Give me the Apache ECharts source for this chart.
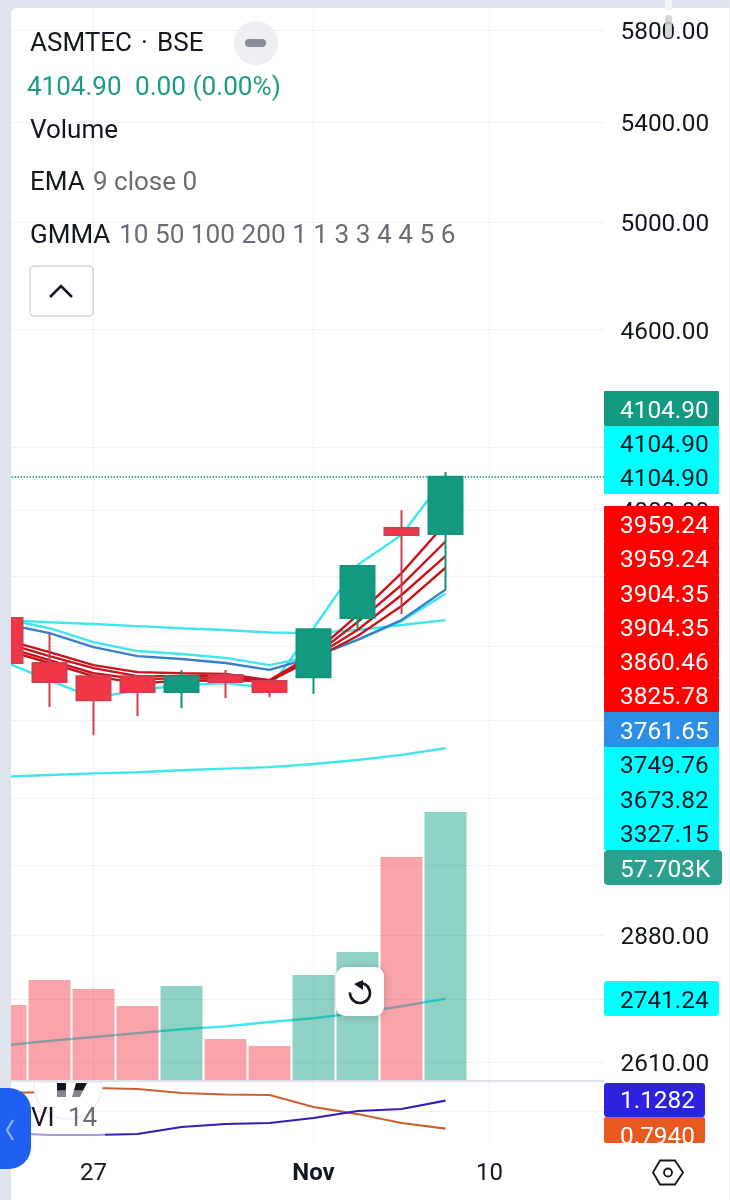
<!DOCTYPE html>
<html><head><meta charset="utf-8">
<style>html,body{margin:0;padding:0;background:#fff}#c{width:730px;height:1200px}</style>
<script src="https://cdn.jsdelivr.net/npm/echarts@6/dist/echarts.min.js"></script>
</head><body><div id="c"></div>
<script>
const categories=['23','24','27','28','29','30','31','Nov','4','6','7','10','11','12','13'];
const shownDates=['27','Nov','10'];
const priceTicks=[5800,5400,5000,4600,4200,4000,3800,3600,3400,3200,3040,2880,2740,2610];
// [open, close, low, high]
const candles=[[3680,3554,3554,3680],[3554,3502,3435,3637],[3518,3453,3361,3518],[3518,3475,3411,3518],[3475,3518,3432,3535],[3521,3502,3459,3535],[3505,3475,3461,3507],[3515,3648,3470,3648],[3680,3831,3651,3831],[3945,3924,3691,4000],[3927,4104.9,3760,4120]];
const volumes=[16150,21530,19590,15930,20240,8830,7320,22610,27560,48010,57703];
const volumeUp=[0,0,0,0,1,0,0,1,1,0,1];
const ema9=[3556,3507,3459,3480,3494,3499,3486,3651,3834,3924,4104.9];
const gmmaRed1=[3618,3584,3548,3529,3526,3524,3507,3579,3688,3810,3959.24];
const gmmaRed2=[3609,3573,3540,3518,3518,3518,3507,3573,3668,3775,3904.35];
const gmmaRed3=[3598,3562,3526,3510,3512,3512,3505,3570,3646,3746,3860.46];
const gmmaRed4=[3590,3554,3518,3499,3505,3507,3505,3565,3629,3714,3825.78];
const gmmaBlue=[3663,3637,3598,3573,3565,3554,3535,3570,3618,3674,3761.65];
const gmmaCyan1=[3677,3651,3612,3587,3579,3568,3548,3573,3618,3671,3749.76];
const gmmaCyan2=[3674,3668,3663,3657,3651,3646,3639,3637,3646,3660,3673.82];
const gmmaCyan3=[3255,3259,3263,3266,3271,3275,3279,3287,3297,3310,3327.15];
const gmmaCyan4=[2644,2653,2661,2669,2677,2683,2692,2700,2711,2725,2741.24];
const viPlus=[0.7427,0.7188,0.7188,0.7307,0.8143,0.8501,0.8620,0.9217,1.0053,1.0291,1.1282];
const viMinus=[1.220,1.232,1.280,1.268,1.220,1.202,1.196,1.053,0.969,0.862,0.794];
const lastPrice=4104.9;
const priceTags=['4104.90','4104.90','4104.90','3959.24','3959.24','3904.35','3904.35','3860.46','3825.78','3761.65','3749.76','3673.82','3327.15','57.703K'];
const tagKinds=['g','c','c','r','r','r','r','r','r','b','c','c','c','v'];

const FONT='Roboto, sans-serif';
const GRIDC='#eff1f5';
const chart=echarts.init(document.getElementById('c'),null,{renderer:'canvas',width:730,height:1200});

function line(name,data,color,w,yAxisIndex,xAxisIndex,z){
  return {type:'line',name,data,xAxisIndex:xAxisIndex||0,yAxisIndex:yAxisIndex||0,symbol:'none',smooth:false,z:z||2,silent:true,
    lineStyle:{color,width:w||2.4},animation:false};
}
const gfx=[];
const Z=100;
function rect(x,y,w,h,fill,r,extra){gfx.push({type:'rect',z:Z,silent:true,shape:{x,y,width:w,height:h,r:r||0},style:Object.assign({fill},extra||{})});}
function txt(x,y,t,size,fill,extra){gfx.push({type:'text',z:Z,silent:true,x,y:y+2,style:Object.assign({text:t,font:`${size}px ${FONT}`,fill,verticalAlign:'middle',align:'left'},extra||{})});}
function poly(points,style,closed){gfx.push({type:closed?'polygon':'polyline',z:Z,silent:true,shape:{points},style});}

// mask the gridline run-out between plot edge and tick labels
rect(604,0,16,1082,'#ffffff');
rect(604,1082,16,70,'#ffffff');

// price tags, stacked down the right edge
const tagColor={g:'#119a80',c:'#00ffff',r:'#ff0000',b:'#2b8fe6',v:'#2ba08c'};
const tagText={g:'#fff',c:'#131722',r:'#fff',b:'#fff',v:'#fff'};
const tagTops=[391,426,460,506,541,575,610,644,678,712,747,781,816,850];
const tagH=[35,34,34,35,34,35,34,34,34,35,34,35,34,35];
priceTags.forEach((t,i)=>{
  const k=tagKinds[i];
  rect(604,tagTops[i],k==='v'?118:115,tagH[i],tagColor[k],k==='v'?4:1);
});
priceTags.forEach((t,i)=>{
  const k=tagKinds[i];
  txt(620,tagTops[i]+tagH[i]/2+1,t,24.4,tagText[k]);
});
rect(604,981,115,35,'#00ffff',3);
txt(620,999.5,'2741.24',24.4,'#131722');
// VI tags
rect(604,1083,101,34,'#2e22e0',3);
txt(620,1100,'1.1282',24.4,'#fff');
rect(604,1117,101,26,'#e8581f',2);
txt(620,1136,'0.7940',24.4,'#fff');
rect(604,1143,115,12,'#ffffff');

// legend
txt(30,42,'ASMTEC',26,'#131722');
txt(141,42,'·',26,'#131722');
txt(157,42,'BSE',26,'#131722');
gfx.push({type:'circle',z:Z,silent:true,shape:{cx:256,cy:43,r:22},style:{fill:'#eeeff2'}});
rect(245,39,21,8,'#8a8d97',4);
txt(27,86,'4104.90',26,'#1f9a85');
txt(135,86,'0.00 (0.00%)',26.2,'#1f9a85');
txt(30,129,'Volume',26,'#131722');
txt(30,181,'EMA',26,'#131722');
txt(93,181,'9 close 0',26,'#6a6d78');
txt(30,234,'GMMA',26,'#131722');
txt(119,234,'10 50 100 200 1 1 3 3 4 4 5 6',26.2,'#6a6d78');
rect(30,266,63,50,'#ffffff',4,{stroke:'#d1d4dc',lineWidth:1.5});
poly([[50,297],[61,286],[72,297]],{stroke:'#131722',fill:null,lineWidth:2.6},false);

// reset button
rect(336,967,48,49,'#ffffff',9,{shadowBlur:8,shadowColor:'rgba(0,0,0,0.2)',shadowOffsetY:1});
gfx.push({type:'arc',z:Z,silent:true,shape:{cx:360,cy:993,r:10,startAngle:-Math.PI*0.55,endAngle:Math.PI*1.02,clockwise:true},style:{stroke:'#131722',fill:null,lineWidth:2.6}});
poly([[363,980],[363,990],[354,984]],{fill:'#131722'},true);

// VI legend + logo
rect(31,1119,74,26,'rgba(255,255,255,0.55)');
const arcPts=[];
for(let i=0;i<=40;i++){const a=Math.PI*(-0.06+1.12*i/40);const y=1085+34*Math.sin(a);arcPts.push([68+34*Math.cos(a),Math.max(1082,y)]);}
poly(arcPts,{fill:'#ffffff',stroke:'#eceef2',lineWidth:1.5},true);
const logoFill=new echarts.graphic.LinearGradient(0,0,0,1,[{offset:0,color:'#131722'},{offset:0.5,color:'#131722'},{offset:0.55,color:'#85878d'},{offset:1,color:'#85878d'}]);
rect(57,1083,9,14,logoFill);
poly([[76,1083],[87,1083],[80,1097],[72,1097]],{fill:logoFill},true);
txt(31,1117,'VI',26,'#131722');
txt(68,1117,'14',26,'#6a6d78');

// panel separator, frame, overlays
rect(11,1080,593,2,'#dfe3ee');
rect(0,0,11,1200,'#dfe3ee');
rect(0,0,730,8,'#dfe3ee');
rect(729,0,1,1200,'#e6e8ef');
const corner=[[11,8]];for(let i=0;i<=8;i++){const a=Math.PI*(1+0.5*i/8);corner.push([17+6*Math.cos(a),14+6*Math.sin(a)]);}
poly(corner,{fill:'#dfe3ee'},true);
rect(665,0,7,10,'#f3f4f8');
rect(665,15,7,23,'rgba(205,207,212,0.85)',3);
// side handle
rect(-22,1088,53,81,'#1f5ff2',22);
poly([[13,1120],[7,1130],[13,1140]],{stroke:'#8fb0ff',fill:null,lineWidth:2.4},false);
// settings hexagon
poly([[653,1172.5],[660,1160.5],[675,1160.5],[683,1172.5],[675,1184.5],[660,1184.5]],{stroke:'#131722',fill:'#fff',lineWidth:1.8},true);
gfx.push({type:'circle',z:Z,silent:true,shape:{cx:668,cy:1172.5,r:4},style:{stroke:'#131722',fill:'#fff',lineWidth:1.8}});

const vLines=shownDates.map(d=>({xAxis:d}));
const option={
  animation:false,
  backgroundColor:'#ffffff',
  textStyle:{fontFamily:FONT},
  grid:[
    {left:5.5,width:616,top:8,height:1072},
    {left:5.5,width:616,top:1082,height:62}
  ],
  xAxis:[
    {type:'category',boundaryGap:false,gridIndex:0,data:categories,axisLine:{show:false},axisTick:{show:false},axisLabel:{show:false},splitLine:{show:false},axisPointer:{show:false}},
    {type:'category',boundaryGap:false,gridIndex:1,data:categories,axisLine:{show:false},axisTick:{show:false},splitLine:{show:false},
     axisLabel:{show:true,margin:18,fontSize:24,fontFamily:FONT,color:'#131722',
       interval:(i,v)=>shownDates.includes(v),
       formatter:v=>v==='Nov'?'{b|Nov}':v,rich:{b:{fontWeight:'bold',fontSize:24,fontFamily:FONT,color:'#131722'}}}}
  ],
  yAxis:[
    {type:'log',logBase:10,gridIndex:0,position:'right',min:2573.9,max:5899.6,
      axisLine:{show:false},
      axisTick:{show:false,customValues:priceTicks},
      splitLine:{show:true,lineStyle:{color:GRIDC,width:1}},
      axisLabel:{show:true,margin:-1,verticalAlign:'top',lineHeight:6,fontSize:24.4,fontFamily:FONT,color:'#131722',customValues:priceTicks,formatter:v=>Number(v).toFixed(2),align:'left'}},
    {type:'value',gridIndex:0,min:0,max:230800,show:false,splitLine:{show:false}},
    {type:'value',gridIndex:1,position:'right',min:0.6114,max:1.3514,
      axisLine:{show:false},axisTick:{show:false,customValues:[1]},axisLabel:{show:false},splitLine:{show:true,lineStyle:{color:GRIDC,width:1}}}
  ],
  series:[
    {type:'line',name:'gridV',data:[],silent:true,symbol:'none',xAxisIndex:0,yAxisIndex:0,z:1,
      markLine:{z:1,silent:true,symbol:'none',label:{show:false},animation:false,lineStyle:{color:GRIDC,width:1,type:'solid'},data:vLines}},
    {type:'line',name:'gridV2',data:[],silent:true,symbol:'none',xAxisIndex:1,yAxisIndex:2,z:1,
      markLine:{z:1,silent:true,symbol:'none',label:{show:false},animation:false,lineStyle:{color:GRIDC,width:1,type:'solid'},data:vLines}},
    line('ema9',ema9,'#3fe6ea'),
    line('c4',gmmaCyan4,'#3fe6ea'),
    line('c3',gmmaCyan3,'#3fe6ea'),
    line('c2',gmmaCyan2,'#3fe6ea'),
    line('c1',gmmaCyan1,'#3fe6ea'),
    line('blue',gmmaBlue,'#3a80c8'),
    line('r4',gmmaRed4,'#c8141c'),
    line('r3',gmmaRed3,'#c8141c'),
    line('r2',gmmaRed2,'#c8141c'),
    line('r1',gmmaRed1,'#c8141c'),
    {type:'bar',name:'volume',xAxisIndex:0,yAxisIndex:1,barWidth:42,silent:true,z:3,
      data:volumes.map((v,i)=>({value:v,itemStyle:{color:volumeUp[i]?'rgba(8,153,129,0.45)':'rgba(242,54,69,0.45)'}}))},
    {type:'candlestick',name:'ASMTEC',xAxisIndex:0,yAxisIndex:0,barWidth:35,silent:true,z:4,data:candles,
      itemStyle:{color:'#119a7f',color0:'#f23645',borderColor:'#14927c',borderColor0:'#cb4153',borderWidth:2},
      markLine:{silent:true,symbol:'none',label:{show:false},animation:false,lineStyle:{color:'#119a7f',type:'dotted',width:1.5},data:[{yAxis:lastPrice}]}},
    line('viMinus',viMinus,'#c9602f',2.2,2,1),
    line('viPlus',viPlus,'#2f1fb5',2.2,2,1)
  ],
  graphic:{elements:gfx}
};
chart.setOption(option);
</script></body></html>
